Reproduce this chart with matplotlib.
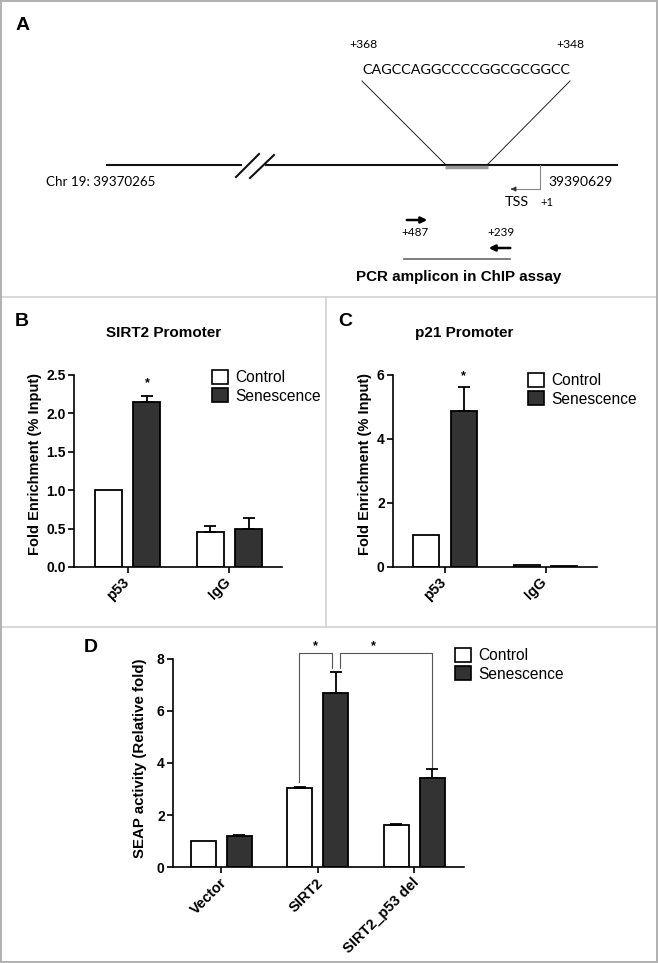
import numpy as np
import matplotlib
matplotlib.use('Agg')
import matplotlib.pyplot as plt
from matplotlib.lines import Line2D
from matplotlib.patches import Patch

W, H = 658, 963

plt.rcParams['font.family'] = ['Liberation Sans', 'DejaVu Sans']
plt.rcParams['font.weight'] = 'bold'
plt.rcParams['axes.linewidth'] = 1.2

# data
groups_bc = ['p53', 'IgG']
sirt2_control = [1.0, 0.45]
sirt2_control_err = [0.0, 0.08]
sirt2_sen = [2.15, 0.49]
sirt2_sen_err = [0.08, 0.15]

p21_control = [1.0, 0.05]
p21_control_err = [0.0, 0.0]
p21_sen = [4.88, 0.03]
p21_sen_err = [0.75, 0.0]

groups_d = ['Vector', 'SIRT2', 'SIRT2_p53 del']
seap_control = [1.0, 3.02, 1.63]
seap_control_err = [0.0, 0.07, 0.02]
seap_sen = [1.2, 6.7, 3.42]
seap_sen_err = [0.03, 0.8, 0.35]

# schematic labels (panel A)
seq = 'CAGCCAGGCCCCGGCGCGGCC'
chr_start = 'Chr 19: 39370265'
chr_end = '39390629'

DARK = '#333333'
BORDER = '#d2d2d2'
HUMAN = ['Lato', 'Liberation Sans']


def box(x0, y0, x1, y1):
    return [x0 / W, 1 - y1 / H, (x1 - x0) / W, (y1 - y0) / H]


fig = plt.figure(figsize=(W / 100, H / 100), dpi=100)
renderer = fig.canvas.get_renderer()


def fit(ax, x, y, s, width, **kw):
    # size a label so it spans the given pixel width
    t = ax.text(x, y, s, fontsize=10, **kw)
    w = t.get_window_extent(renderer).width
    t.set_fontsize(10 * width / w)
    return t


# panel borders
def hline(y, x0, x1, c=BORDER, lw=1.2):
    fig.add_artist(Line2D([x0 / W, x1 / W], [1 - y / H, 1 - y / H], color=c, lw=lw))

def vline(x, y0, y1, c=BORDER, lw=1.2):
    fig.add_artist(Line2D([x / W, x / W], [1 - y0 / H, 1 - y1 / H], color=c, lw=lw))

hline(297, 0, W)
hline(627, 0, W)
vline(326, 297, 627)
vline(0.7, 0, H, c='#b0b0b0', lw=1.4)
vline(W - 0.7, 0, H, c='#b0b0b0', lw=1.4)
hline(0.7, 0, W, c='#b0b0b0', lw=1.4)
hline(H - 0.7, 0, W, c='#b0b0b0', lw=1.4)

# ---------- panel A ----------
axA = fig.add_axes(box(0, 0, W, 297))
axA.set_xlim(0, W)
axA.set_ylim(297, 0)
axA.axis('off')

axA.text(23, 25, 'A', fontsize=14, fontweight='bold', ha='center', va='center')
fit(axA, 363, 45, '+368', 28, family=HUMAN, fontweight='normal', ha='center', va='center')
fit(axA, 570, 45, '+348', 28, family=HUMAN, fontweight='normal', ha='center', va='center')
fit(axA, 466, 70, seq, 208, family=HUMAN, fontweight='normal', ha='center', va='center')
axA.plot([362, 445], [81, 164], color='#222222', lw=0.7)
axA.plot([570, 488], [81, 164], color='#222222', lw=0.7)
axA.plot([107, 241], [165, 165], color='#111111', lw=1.5)
axA.plot([266, 617], [165, 165], color='#111111', lw=1.5)
axA.plot([236, 259], [177, 154], color='#111111', lw=1.5)
axA.plot([250, 274], [178, 155], color='#111111', lw=1.5)
axA.plot([445, 488], [167.5, 167.5], color='#999999', lw=2.5, solid_capstyle='butt')
fit(axA, 46, 182, chr_start, 109, family=HUMAN, fontweight='normal', ha='left', va='center')
fit(axA, 548, 182, chr_end, 64, family=HUMAN, fontweight='normal', ha='left', va='center')
axA.plot([540, 540, 513], [165, 189, 189], color='#888888', lw=0.8)
axA.annotate('', xy=(508, 189), xytext=(515, 189),
             arrowprops=dict(arrowstyle='-|>', color='#333333', lw=0.8, mutation_scale=7))
fit(axA, 517, 202, 'TSS', 24, family=HUMAN, fontweight='normal', ha='center', va='center')
fit(axA, 547, 203, '+1', 13, family=HUMAN, fontweight='normal', ha='center', va='center')
axA.annotate('', xy=(430, 220), xytext=(404, 220),
             arrowprops=dict(arrowstyle='-|>', color='black', lw=1.8, mutation_scale=9))
axA.annotate('', xy=(486, 248), xytext=(513, 248),
             arrowprops=dict(arrowstyle='-|>', color='black', lw=1.8, mutation_scale=9))
fit(axA, 415, 233, '+487', 27, family=HUMAN, fontweight='normal', ha='center', va='center')
fit(axA, 501, 233, '+239', 27, family=HUMAN, fontweight='normal', ha='center', va='center')
axA.plot([404, 510], [259, 259], color='#666666', lw=1.2)
fit(axA, 459, 277, 'PCR amplicon in ChIP assay', 204, fontweight='bold', ha='center', va='center')


# ---------- bar panel helper ----------
def bar_panel(ax, labels, ctrl, ctrl_err, sen, sen_err, width, offset, ylim, yticks, ticklabels,
              lab_off=(0, -8)):
    x = np.arange(len(labels))
    ax.bar(x - offset, ctrl, width, color='white', edgecolor='black', linewidth=1.3, zorder=2)
    ax.bar(x + offset, sen, width, color=DARK, edgecolor='black', linewidth=1.3, zorder=2)
    for xs, vals, errs in [(x - offset, ctrl, ctrl_err), (x + offset, sen, sen_err)]:
        for xi, v, e in zip(xs, vals, errs):
            if e > 0:
                ax.errorbar(xi, v, yerr=[[0], [e]], fmt='none', ecolor='black',
                            elinewidth=1.3, capsize=4.5, capthick=1.3, zorder=3)
    ax.set_ylim(*ylim)
    ax.set_yticks(yticks)
    ax.set_yticklabels(ticklabels, fontsize=10, fontweight='bold')
    ax.set_xticks(x)
    ax.set_xticklabels([])
    # rotated category labels hung under each tick
    for xi, lab in zip(x, labels):
        ax.annotate(lab, xy=(xi, ylim[0]), xytext=lab_off, textcoords='offset points',
                    fontsize=10.5, fontweight='bold', rotation=45,
                    ha='right', va='top', rotation_mode='anchor', annotation_clip=False)
    ax.spines['top'].set_visible(False)
    ax.spines['right'].set_visible(False)
    ax.tick_params(direction='out', length=4, width=1.2, pad=2)
    ax.patch.set_alpha(0)
    return x


def add_legend(ax, x0, ytop, fs=11.2):
    handles = [Patch(facecolor='white', edgecolor='black', linewidth=1.2),
               Patch(facecolor=DARK, edgecolor='black', linewidth=1.2)]
    ax.legend(handles, ['Control', 'Senescence'], loc='upper left',
              bbox_to_anchor=(x0 / W, 1 - ytop / H), bbox_transform=fig.transFigure,
              frameon=False, handlelength=1.05, handleheight=1.0,
              handletextpad=0.45, labelspacing=0.2, borderpad=0, borderaxespad=0,
              prop={'weight': 'normal', 'size': fs})


# ---------- panel B ----------
axB = fig.add_axes(box(74, 375, 282, 567))
bar_panel(axB, groups_bc, sirt2_control, sirt2_control_err, sirt2_sen, sirt2_sen_err,
          0.265, 0.19, (0, 2.5), [0, 0.5, 1.0, 1.5, 2.0, 2.5],
          ['0.0', '0.5', '1.0', '1.5', '2.0', '2.5'], lab_off=(-4.3, -5.8))
axB.set_xlim(-0.525, 1.515)
axB.set_ylabel('Fold Enrichment (% Input)', fontsize=10.5, fontweight='bold')
axB.yaxis.set_label_coords(-0.154, 0.536)
axB.text(0.19, sirt2_sen[0] + sirt2_sen_err[0] + 0.08, '*', ha='center', va='bottom', fontsize=9)
fig.text(164 / W, 1 - 333 / H, 'SIRT2 Promoter', fontsize=11, fontweight='bold', ha='center', va='center')
fig.text(22 / W, 1 - 322 / H, 'B', fontsize=14, fontweight='bold', ha='center', va='center')
add_legend(axB, 212, 370)

# ---------- panel C ----------
axC = fig.add_axes(box(393, 375, 597, 567))
bar_panel(axC, groups_bc, p21_control, p21_control_err, p21_sen, p21_sen_err,
          0.26, 0.185, (0, 6), [0, 2, 4, 6], ['0', '2', '4', '6'], lab_off=(-4.3, -5.8))
axC.set_xlim(-0.517, 1.512)
axC.set_ylabel('Fold Enrichment (% Input)', fontsize=10.5, fontweight='bold')
axC.yaxis.set_label_coords(-0.103, 0.536)
axC.text(0.185, p21_sen[0] + p21_sen_err[0] + 0.15, '*', ha='center', va='bottom', fontsize=9)
fig.text(464 / W, 1 - 333 / H, 'p21 Promoter', fontsize=11, fontweight='bold', ha='center', va='center')
fig.text(345 / W, 1 - 322 / H, 'C', fontsize=14, fontweight='bold', ha='center', va='center')
add_legend(axC, 528, 373)

# ---------- panel D ----------
axD = fig.add_axes(box(173, 659, 464, 867))
xd = bar_panel(axD, groups_d, seap_control, seap_control_err, seap_sen, seap_sen_err,
               0.26, 0.187, (0, 8), [0, 2, 4, 6, 8], ['0', '2', '4', '6', '8'],
               lab_off=(-1.5, -6.1))
axD.set_xlim(-0.503, 2.518)
axD.set_ylabel('SEAP activity (Relative fold)', fontsize=10.8, fontweight='bold')
axD.yaxis.set_label_coords(-0.089, 0.524)
fig.text(91 / W, 1 - 647 / H, 'D', fontsize=14, fontweight='bold', ha='center', va='center')
add_legend(axD, 455, 648)

# significance brackets
top = 8.23
b1 = [xd[1] - 0.2, xd[1] + 0.15]
b2 = [xd[1] + 0.23, xd[2] + 0.187]
axD.plot([b1[0], b1[0], b1[1], b1[1]],
         [seap_control[1] + 0.25, top, top, seap_sen[1] + seap_sen_err[1] + 0.15],
         color='#555555', lw=0.8, clip_on=False)
axD.plot([b2[0], b2[0], b2[1], b2[1]],
         [seap_sen[1] + seap_sen_err[1] + 0.15, top, top, seap_sen[2] + seap_sen_err[2] + 0.05],
         color='#555555', lw=0.8, clip_on=False)
axD.text(sum(b1) / 2, top + 0.05, '*', ha='center', va='bottom', fontsize=9, clip_on=False)
axD.text(b2[0] + 0.35, top + 0.05, '*', ha='center', va='bottom', fontsize=9, clip_on=False)

fig.savefig('out.png', dpi=100)
